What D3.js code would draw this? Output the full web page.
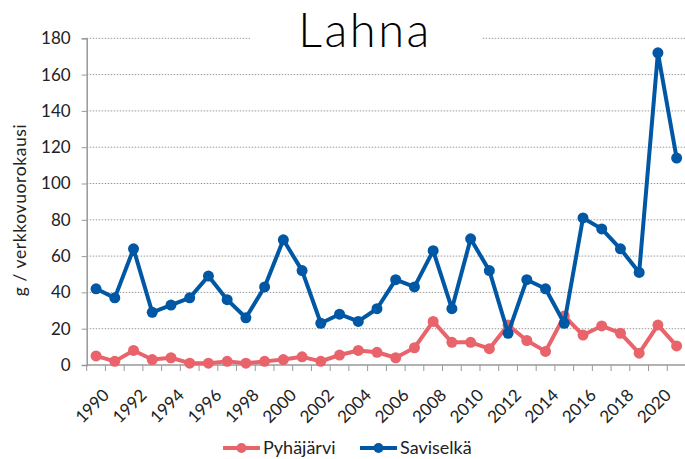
<!DOCTYPE html>
<html><head><meta charset="utf-8">
<script src="https://cdn.jsdelivr.net/npm/d3@7"></script>
<style>body{margin:0;background:#fff;} svg{display:block;}</style>
</head><body>
<svg id="c" width="685" height="459"></svg>
<script>
const years = d3.range(1990, 2022);
const pyhajarvi = [5,2,8,3,4,1,1,2,1,2,3,4.5,2,5.5,8,7,4,9.5,24,12.5,12.5,9,22,13.5,7.5,27,16.5,21.5,17.5,6.5,22,10.5];
const saviselka = [42,37,64,29,33,37,49,36,26,43,69,52,23,28,24,31,47,43,63,31,69.5,52,17.5,47,42,23,81,75,64,51,172,114];
const yTicks = [0,20,40,60,80,100,120,140,160,180];
const seriesNames = ["Pyhäjärvi","Saviselkä"];
const colors = ["#E9636B","#0057A4"];
const font = "Lato, 'Noto Sans', sans-serif";

const svg = d3.select("#c");
const L = 86.7, R = 686, T = 38.3, B = 365;
const x = d3.scaleBand().domain(years).range([L, R]);
const y = d3.scaleLinear().domain([0,180]).range([B, T]);

// gridlines
svg.append("g").selectAll("line").data(yTicks.filter(d=>d>0)).join("line")
  .attr("x1", L).attr("x2", R).attr("y1", d=>y(d)).attr("y2", d=>y(d))
  .attr("stroke", "#9a9a9a").attr("stroke-width", 1).attr("stroke-dasharray", "1.5,1.5");

// y axis
const yAxis = d3.axisLeft(y).tickValues(yTicks).tickSize(5).tickPadding(11);
const gy = svg.append("g").attr("transform", `translate(${L},0)`).call(yAxis);
gy.select(".domain").attr("stroke", "#999").attr("stroke-width", 1.5);
gy.selectAll(".tick line").attr("stroke", "#999");
gy.selectAll("text").attr("font-family", font).attr("font-size", 17).attr("fill", "#222");

// x axis
const gx = svg.append("g").attr("transform", `translate(0,${B})`);
gx.append("line").attr("x1", L).attr("x2", R).attr("stroke", "#999").attr("stroke-width", 1.5);
gx.selectAll(".tk").data(years.concat([null])).join("line").attr("class","tk")
  .attr("x1", (d,i)=> L + i*x.bandwidth()).attr("x2", (d,i)=> L + i*x.bandwidth())
  .attr("y1", 0).attr("y2", 6).attr("stroke", "#999");
gx.selectAll("text").data(years.filter(d=>d%2===0)).join("text")
  .attr("transform", d=>`translate(${x(d)+x.bandwidth()/2+10},${27}) rotate(-45)`)
  .attr("text-anchor", "end").attr("dy", "0.35em")
  .attr("font-family", font).attr("font-size", 17).attr("fill", "#222")
  .text(d=>d);

// y title
svg.append("text").attr("transform", "translate(26,210) rotate(-90)")
  .attr("text-anchor", "middle").attr("font-family", font).attr("font-size", 17.5)
  .attr("letter-spacing", 0.6).attr("fill", "#222")
  .text("g / verkkovuorokausi");

// series
const data = [pyhajarvi, saviselka];
const cx = d => x(d) + x.bandwidth()/2;
const line = d3.line().x((d,i)=>cx(years[i])).y(d=>y(d));
data.forEach((s, k) => {
  const g = svg.append("g");
  g.append("path").datum(s).attr("d", line).attr("fill","none")
    .attr("stroke", colors[k]).attr("stroke-width", 4).attr("stroke-linejoin","round");
  g.selectAll("circle").data(s).join("circle")
    .attr("cx", (d,i)=>cx(years[i])).attr("cy", d=>y(d)).attr("r", 5.5).attr("fill", colors[k]);
});

// title
svg.append("rect").attr("x", 250).attr("y", 5).attr("width", 232).attr("height", 52).attr("fill", "#fff");
svg.append("text").attr("x", 365).attr("y", 47).attr("text-anchor","middle")
  .attr("font-family", font).attr("font-size", 47).attr("font-weight", 300).attr("letter-spacing", 2.5)
  .attr("fill", "#000").text("Lahna");

// legend
const leg = [{x:223, name: seriesNames[0], c: colors[0]}, {x:360, name: seriesNames[1], c: colors[1]}];
const lg = svg.append("g");
leg.forEach(d => {
  lg.append("line").attr("x1", d.x).attr("x2", d.x+37).attr("y1", 448).attr("y2", 448)
    .attr("stroke", d.c).attr("stroke-width", 4);
  lg.append("circle").attr("cx", d.x+18.5).attr("cy", 448).attr("r", 5).attr("fill", d.c);
  lg.append("text").attr("x", d.x+40).attr("y", 448).attr("dy","0.35em")
    .attr("font-family", font).attr("font-size", 18).attr("fill", "#222").text(d.name);
});
</script>
</body></html>
